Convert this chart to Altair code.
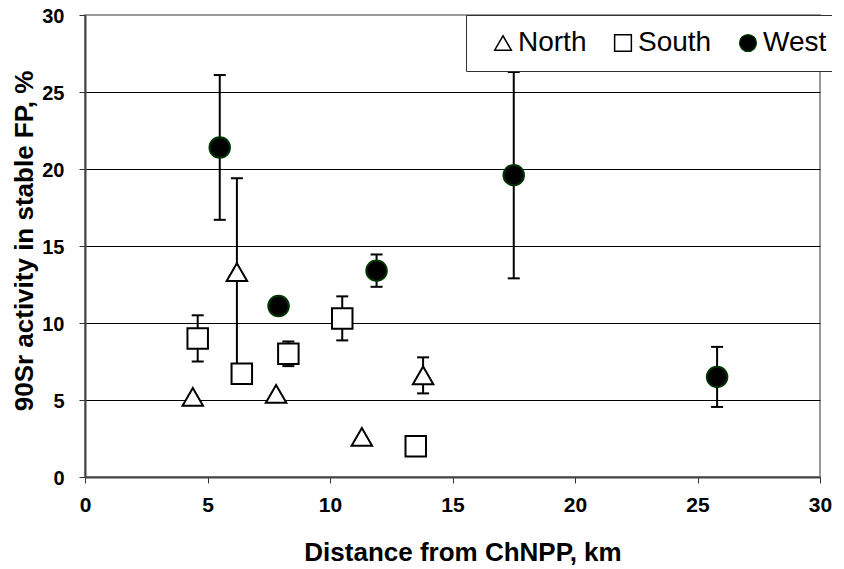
import altair as alt
import pandas as pd

# ---- data ----
regions = ["North", "South", "West"]

north_x = [4.4, 6.2, 7.8, 11.3, 13.8]
north_y = [5.2, 13.3, 5.4, 2.6, 6.6]
north_err = [0.0, 6.1, 0.0, 0.0, 1.17]

south_x = [4.6, 6.4, 8.3, 10.5, 13.5]
south_y = [9.0, 6.7, 8.0, 10.3, 2.0]
south_err = [1.5, 0.0, 0.8, 1.43, 0.0]

west_x = [5.5, 7.9, 11.9, 17.5, 25.8]
west_y = [21.4, 11.1, 13.4, 19.6, 6.5]
west_err = [4.7, 0.0, 1.05, 6.7, 1.95]

x_ticks = [0, 5, 10, 15, 20, 25, 30]
y_ticks = [0, 5, 10, 15, 20, 25, 30]

rows = []
for name, xs, ys, es in [("North", north_x, north_y, north_err),
                         ("South", south_x, south_y, south_err),
                         ("West", west_x, west_y, west_err)]:
    for x, y, e in zip(xs, ys, es):
        rows.append({"region": name, "dist": x, "act": y, "err": e})
df = pd.DataFrame(rows)

FONT = "Liberation Sans"
X_TITLE = "Distance from ChNPP, km"
Y_TITLE = "90Sr activity in stable FP, %"

xscale = alt.Scale(domain=[0, 30], nice=False, zero=False)
yscale = alt.Scale(domain=[0, 30], nice=False, zero=False)

xaxis = alt.Axis(
    values=x_ticks, grid=False, labelFlush=False,
    labelFont=FONT, labelFontSize=21, labelFontWeight="bold", labelColor="black",
    labelPadding=11, tickSize=6, tickColor="#333333", tickWidth=1,
    domainColor="#444444", domainWidth=2,
    titleFont=FONT, titleFontSize=26, titleFontWeight="bold", titleColor="black",
    titleX=377.5, titleY=83, titleAlign="center", titleBaseline="alphabetic",
)
yaxis = alt.Axis(
    values=y_ticks, grid=True,
    gridColor={"condition": {"test": "datum.value >= 30", "value": "#999999"}, "value": "black"},
    gridWidth=1, gridOpacity=1,
    labelFont=FONT, labelFontSize=20, labelFontWeight="bold", labelColor="black",
    labelPadding=15, labelOffset=1, tickSize=6, tickColor="#333333", tickWidth=1,
    domainColor="#444444", domainWidth=2,
    titleFont=FONT, titleFontSize=26, titleFontWeight="bold", titleColor="black",
    titleX=-61, titleY=225.5, titleAngle=-90, titleAlign="center", titleBaseline="middle",
)

base = alt.Chart(df)
errdata = base.transform_filter("datum.err > 0").transform_calculate(
    lo="datum.act - datum.err", hi="datum.act + datum.err"
)

X = alt.X("dist:Q", scale=xscale, axis=xaxis, title=X_TITLE)

bars = errdata.mark_rule(color="black", strokeWidth=2).encode(
    x=X,
    y=alt.Y("lo:Q", scale=yscale, axis=yaxis, title=Y_TITLE),
    y2="hi:Q",
)
cap_hi = errdata.mark_tick(orient="horizontal", thickness=2, size=12, color="black", opacity=1).encode(
    x=X, y=alt.Y("hi:Q", scale=yscale, axis=yaxis, title=Y_TITLE)
)
cap_lo = errdata.mark_tick(orient="horizontal", thickness=2, size=12, color="black", opacity=1).encode(
    x=X, y=alt.Y("lo:Q", scale=yscale, axis=yaxis, title=Y_TITLE)
)

legend = alt.Legend(
    title=None, orient="none", legendX=381, legendY=0, direction="horizontal",
    fillColor="white", strokeColor="#333333", padding=14,
    symbolOffset=9, labelOffset=1, columnPadding=13,
    labelFont=FONT, labelFontSize=28, labelColor="black",
    symbolSize=280, symbolStrokeWidth=1.5,
)

points = base.mark_point(size=420, strokeWidth=2, opacity=1).encode(
    x=X,
    y=alt.Y("act:Q", scale=yscale, axis=yaxis, title=Y_TITLE),
    shape=alt.Shape("region:N", scale=alt.Scale(domain=regions, range=["triangle-up", "square", "circle"]), legend=legend),
    fill=alt.Fill("region:N", scale=alt.Scale(domain=regions, range=["white", "white", "black"]), legend=legend),
    stroke=alt.Stroke("region:N", scale=alt.Scale(domain=regions, range=["black", "black", "#003300"]), legend=legend),
)

chart = alt.layer(bars, cap_hi, cap_lo, points).properties(
    width=735, height=462,
    autosize=alt.AutoSizeParams(type="none"),
    padding={"left": 77, "top": 7, "right": 12, "bottom": 88},
    background="white",
).configure_view(stroke="#999999", strokeWidth=2)

chart.save("out.html", embed_options={"renderer": "svg", "actions": False})
